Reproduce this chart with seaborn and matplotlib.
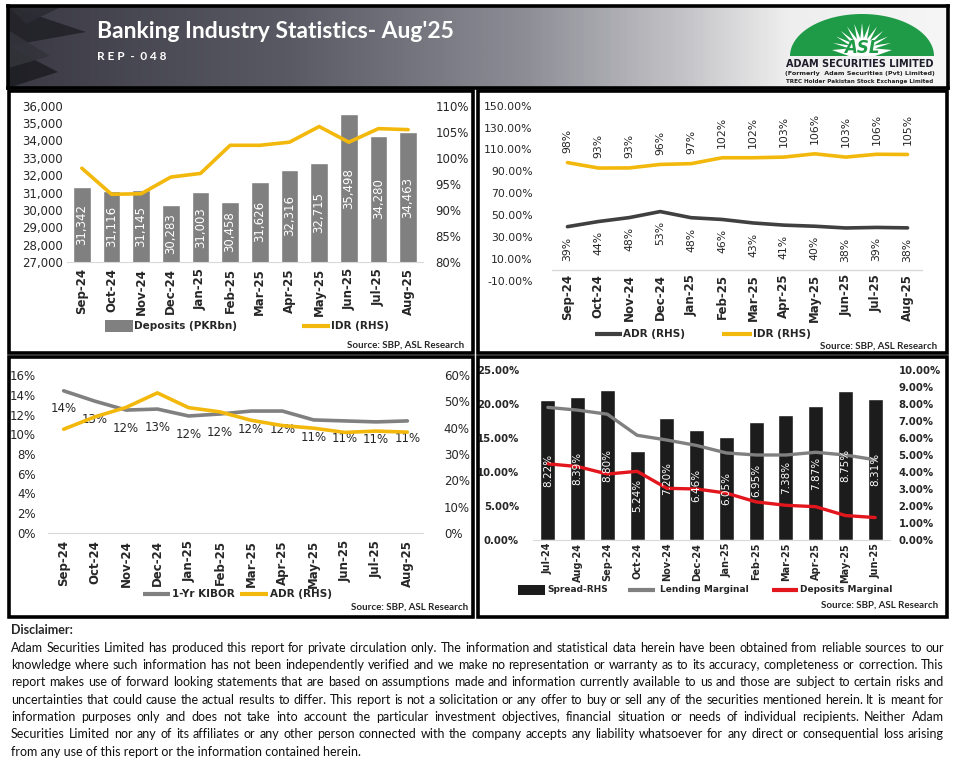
import numpy as np
import matplotlib
matplotlib.use("Agg")
import matplotlib.pyplot as plt
import seaborn as sns
from matplotlib.patches import Rectangle, Polygon
from matplotlib.lines import Line2D
from matplotlib.colors import LinearSegmentedColormap
from matplotlib.ticker import FuncFormatter, MultipleLocator

# ---- data ----
months = ["Sep-24", "Oct-24", "Nov-24", "Dec-24", "Jan-25", "Feb-25",
          "Mar-25", "Apr-25", "May-25", "Jun-25", "Jul-25", "Aug-25"]
deposits = [31342, 31116, 31145, 30283, 31003, 30458,
            31626, 32316, 32715, 35498, 34280, 34463]          # PKR bn
idr = [98.0, 93.0, 93.1, 96.3, 97.0, 102.4, 102.4, 103.0, 106.0, 103.0, 105.6, 105.4]
adr = [39.4, 44.1, 47.7, 53.2, 47.6, 46.0, 42.8, 40.8, 39.8, 38.2, 38.7, 38.3]
kibor = [14.4, 13.35, 12.45, 12.55, 11.85, 12.05, 12.35, 12.35, 11.45, 11.35, 11.25, 11.35]

spread_months = ["Jul-24", "Aug-24", "Sep-24", "Oct-24", "Nov-24", "Dec-24",
                 "Jan-25", "Feb-25", "Mar-25", "Apr-25", "May-25", "Jun-25"]
spread = [8.22, 8.39, 8.80, 5.24, 7.20, 6.46, 6.05, 6.95, 7.38, 7.87, 8.75, 8.31]
lending_marginal = [19.5, 19.1, 18.5, 15.4, 14.7, 13.9, 12.8, 12.5, 12.5, 12.9, 12.5, 11.8]
deposits_marginal = [11.2, 10.8, 9.7, 10.1, 7.6, 7.5, 6.9, 5.6, 5.1, 4.9, 3.6, 3.3]

disclaimer = [
    "Adam Securities Limited has produced this report for private circulation only. The information and statistical data herein have been obtained from reliable sources to our",
    "knowledge where such information has not been independently verified and we make no representation or warranty as to its accuracy, completeness or correction. This",
    "report makes use of forward looking statements that are based on assumptions made and information currently available to us and those are subject to certain risks and",
    "uncertainties that could cause the actual results to differ. This report is not a solicitation or any offer to buy or sell any of the securities mentioned herein. It is meant for",
    "information purposes only and does not take into account the particular investment objectives, financial situation or needs of individual recipients. Neither Adam",
    "Securities Limited nor any of its affiliates or any other person connected with the company accepts any liability whatsoever for any direct or consequential loss arising",
    "from any use of this report or the information contained herein.",
]

W, H = 955, 768
BAR_GREY = "#808080"
GOLD = "#f3b80c"
DARK = "#404040"
KIBOR_GREY = "#808080"
RED = "#e3161d"
AXIS_C = "#d9d9d9"
TXT_FONT = "Lato"

sns.set_style("white")
plt.rcParams["font.family"] = ["DejaVu Sans"]

fig = plt.figure(figsize=(W / 100, H / 100), dpi=100, facecolor="white")


def box(x0, y0, x1, y1):
    return fig.add_axes([x0 / W, 1 - y1 / H, (x1 - x0) / W, (y1 - y0) / H])


def ftext(x, y, s, **kw):
    return fig.text(x / W, 1 - y / H, s, **kw)


def leg_line(x0, x1, y, color, lw=3):
    fig.add_artist(Line2D([x0 / W, x1 / W], [1 - y / H] * 2, transform=fig.transFigure,
                          color=color, lw=lw, solid_capstyle="butt"))


def leg_patch(x0, x1, y, h, color):
    fig.add_artist(Rectangle((x0 / W, 1 - (y + h / 2) / H), (x1 - x0) / W, h / H,
                             transform=fig.transFigure, color=color, lw=0))


def frame(x0, y0, x1, y1):
    fig.add_artist(Rectangle((x0 / W, 1 - y1 / H), (x1 - x0) / W, (y1 - y0) / H,
                             transform=fig.transFigure, fill=False, ec="black", lw=2.6))


def style_axis(ax, labels, fs=8.5, pad=4):
    for s in ax.spines.values():
        s.set_visible(False)
    ax.spines["bottom"].set_visible(True)
    ax.spines["bottom"].set_color(AXIS_C)
    ax.set_xlim(-0.5, len(labels) - 0.5)
    ax.set_xticks(range(len(labels)))
    ax.set_xticklabels(labels, rotation=90, fontweight="bold", fontsize=fs)
    ax.set_xticks(np.arange(-0.5, len(labels), 1), minor=True)
    ax.tick_params(axis="x", which="major", length=0, pad=pad)
    ax.tick_params(axis="x", which="minor", length=4, color=AXIS_C, width=1)
    ax.tick_params(axis="y", length=0)
    ax.set_xlabel("")
    ax.set_ylabel("")
    ax.grid(False)
    ax.patch.set_alpha(0)


def clean_twin(ax):
    for s in ax.spines.values():
        s.set_visible(False)
    ax.tick_params(axis="y", length=0)
    ax.set_ylabel("")
    ax.grid(False)


# ---------------- header banner ----------------
hb = box(8, 6, 948, 88)
cmap = LinearSegmentedColormap.from_list(
    "banner", [(0, "#3b3a44"), (0.3, "#5a5a64"), (0.55, "#8d8d96"),
               (0.72, "#c4c4c8"), (0.83, "#eeeeee"), (1, "#f6f6f6")])
hb.imshow(np.linspace(0, 1, 600)[None, :], extent=[0, 940, 82, 0], aspect="auto", cmap=cmap)
hb.set_xlim(0, 940)
hb.set_ylim(82, 0)
hb.set_xticks([])
hb.set_yticks([])
for s in hb.spines.values():
    s.set_color("black")
    s.set_linewidth(2.6)
for pts, c in [([(0, 0), (78, 26), (0, 40)], "#222228"),
               ([(0, 0), (55, 0), (18, 18)], "#2c2c34"),
               ([(0, 40), (50, 66), (0, 82)], "#1e1e24"),
               ([(0, 24), (42, 50), (0, 62)], "#33333b")]:
    hb.add_patch(Polygon(pts, closed=True, color=c, lw=0, alpha=0.9))

ftext(97, 32, "Banking Industry Statistics- Aug'25", color="white", fontsize=16.5,
      fontweight="bold", family=TXT_FONT, va="center", ha="left")
ftext(97, 57, "R E P  -  0 4 8", color="white", fontsize=8.5, family=TXT_FONT,
      fontweight="bold", va="center", ha="left")

# logo
cx, cy = 862, 56
th = np.linspace(0, np.pi, 80)
dome = [(cx + 72 * np.cos(t), cy - 42 * np.sin(t)) for t in th]
fig.add_artist(Polygon([(x / W, 1 - y / H) for x, y in dome], closed=True,
                       transform=fig.transFigure, color="#1f9a47", lw=0))
star = []
for k in range(25):
    a = np.pi * k / 24
    r = 30 if k % 2 == 0 else 13
    star.append((cx + r * np.cos(a), cy - 6 - r * np.sin(a) * 0.9))
star = [(cx + 13, cy)] + star + [(cx - 13, cy)]
fig.add_artist(Polygon([(x / W, 1 - y / H) for x, y in star], closed=True,
                       transform=fig.transFigure, color="white", lw=0))
ftext(cx, 48, "ASL", color="#1f9a47", fontsize=12, fontweight="bold", style="italic",
      ha="center", va="center", family="DejaVu Sans")
ftext(860, 64, "ADAM SECURITIES LIMITED", color="#1d1d2b", fontsize=7, fontweight="bold",
      ha="center", va="center")
ftext(860, 74, "(Formerly  Adam Securities (Pvt) Limited)", color="#222222", fontsize=4.6,
      fontweight="bold", ha="center", va="center")
ftext(860, 82, "TREC Holder Pakistan Stock Exchange Limited", color="#222222", fontsize=4.1,
      fontweight="bold", ha="center", va="center")

# ---------------- panel frames ----------------
frame(9, 91, 473, 353)
frame(478, 91, 947, 353)
frame(9, 357, 473, 617)
frame(478, 357, 947, 617)

# ---------------- panel 1: deposits & IDR ----------------
ax1 = box(67, 105.7, 423, 262)
sns.barplot(x=months, y=deposits, order=months, color=BAR_GREY, width=0.6,
            saturation=1, ax=ax1)
ax1.set_ylim(27000, 36000)
ax1.yaxis.set_major_locator(MultipleLocator(1000))
ax1.yaxis.set_major_formatter(FuncFormatter(lambda v, _: f"{v:,.0f}"))
for i, v in enumerate(deposits):
    ax1.text(i, (27000 + v) / 2, f"{v:,}", rotation=90, ha="center", va="center",
             color="white", fontsize=8.5)
style_axis(ax1, months, pad=4.5)
ax1.tick_params(axis="y", labelsize=8.5, pad=3)
ax1r = ax1.twinx()
sns.lineplot(x=np.arange(len(months)), y=idr, ax=ax1r, color=GOLD, linewidth=2.6)
ax1r.set_ylim(80, 110)
ax1r.yaxis.set_major_locator(MultipleLocator(5))
ax1r.yaxis.set_major_formatter(FuncFormatter(lambda v, _: f"{v:.0f}%"))
clean_twin(ax1r)
ax1r.tick_params(axis="y", labelsize=8.5, pad=9)
ax1.set_xlim(-0.5, 11.5)

leg_patch(105, 133, 326, 12, BAR_GREY)
ftext(134, 326, "Deposits (PKRbn)", fontsize=7.5, fontweight="bold", va="center")
leg_line(302, 330, 326, GOLD)
ftext(331, 326, "IDR (RHS)", fontsize=7.5, fontweight="bold", va="center")
ftext(464, 345, "Source: SBP, ASL Research", fontsize=7, fontweight="bold",
      family=TXT_FONT, ha="right", va="center")

# ---------------- panel 2: ADR & IDR ----------------
ax2 = box(552, 105.7, 923, 280.7)
sns.lineplot(x=np.arange(len(months)), y=adr, ax=ax2, color=DARK, linewidth=2.6)
sns.lineplot(x=np.arange(len(months)), y=idr, ax=ax2, color=GOLD, linewidth=2.6)
ax2.set_ylim(-10, 150)
ax2.set_yticks(np.arange(-10, 151, 20))
ax2.yaxis.set_major_formatter(FuncFormatter(lambda v, _: f"{v:.2f}%"))
style_axis(ax2, months, pad=-5)
ax2.spines["bottom"].set_visible(False)
ax2.tick_params(axis="x", which="minor", length=0)
ax2.axhline(0, color=AXIS_C, lw=1)
ax2.tick_params(axis="y", labelsize=7.8, pad=14)
for i, v in enumerate(idr):
    ax2.annotate(f"{v:.0f}%", (i, v), xytext=(0, 7), textcoords="offset points",
                 rotation=90, ha="center", va="bottom", fontsize=7.8)
for i, v in enumerate(adr):
    ax2.annotate(f"{v:.0f}%", (i, v), xytext=(0, -7), textcoords="offset points",
                 rotation=90, ha="center", va="top", fontsize=7.8)

leg_line(595, 622, 334, DARK)
ftext(623, 334, "ADR (RHS)", fontsize=7.5, fontweight="bold", va="center")
leg_line(722, 752, 334, GOLD)
ftext(753, 334, "IDR (RHS)", fontsize=7.5, fontweight="bold", va="center")
ftext(937, 346, "Source: SBP, ASL Research", fontsize=7, fontweight="bold",
      family=TXT_FONT, ha="right", va="center")

# ---------------- panel 3: KIBOR & ADR ----------------
ax3 = box(48, 375, 423, 533)
sns.lineplot(x=np.arange(len(months)), y=kibor, ax=ax3, color=KIBOR_GREY, linewidth=2.6)
ax3.set_ylim(0, 16)
ax3.yaxis.set_major_locator(MultipleLocator(2))
ax3.yaxis.set_major_formatter(FuncFormatter(lambda v, _: f"{v:.0f}%"))
style_axis(ax3, months, pad=5)
ax3.tick_params(axis="y", labelsize=8.5, pad=9)
for i, v in enumerate(kibor):
    ax3.annotate(f"{v:.0f}%", (i, v), xytext=(0, -13), textcoords="offset points",
                 ha="center", va="center", fontsize=8.5)
ax3r = ax3.twinx()
sns.lineplot(x=np.arange(len(months)), y=adr, ax=ax3r, color=GOLD, linewidth=2.6)
ax3r.set_ylim(0, 60)
ax3r.yaxis.set_major_locator(MultipleLocator(10))
ax3r.yaxis.set_major_formatter(FuncFormatter(lambda v, _: f"{v:.0f}%"))
clean_twin(ax3r)
ax3r.tick_params(axis="y", labelsize=8.5, pad=15)
ax3.set_xlim(-0.5, 11.5)

leg_line(143, 170, 594, KIBOR_GREY)
ftext(172, 594, "1-Yr KIBOR", fontsize=7.5, fontweight="bold", va="center")
leg_line(240, 268, 594, GOLD)
ftext(270, 594, "ADR (RHS)", fontsize=7.5, fontweight="bold", va="center")
ftext(468, 607, "Source: SBP, ASL Research", fontsize=7, fontweight="bold",
      family=TXT_FONT, ha="right", va="center")

# ---------------- panel 4: spread & marginal rates ----------------
ax4 = box(533, 370, 890, 540)
sns.barplot(x=spread_months, y=spread, order=spread_months, color="#1c1c1c", width=0.5,
            saturation=1, ax=ax4)
ax4.set_ylim(0, 10)
ax4.yaxis.set_major_locator(MultipleLocator(1))
ax4.yaxis.set_major_formatter(FuncFormatter(lambda v, _: f"{v:.2f}%"))
style_axis(ax4, spread_months, fs=7, pad=2)
ax4l = ax4.twinx()
sns.lineplot(x=np.arange(len(spread_months)), y=lending_marginal, ax=ax4l,
             color=KIBOR_GREY, linewidth=2.4)
sns.lineplot(x=np.arange(len(spread_months)), y=deposits_marginal, ax=ax4l,
             color=RED, linewidth=2.4)
ax4l.set_ylim(0, 25)
ax4l.yaxis.set_major_locator(MultipleLocator(5))
ax4l.yaxis.set_major_formatter(FuncFormatter(lambda v, _: f"{v:.2f}%"))
clean_twin(ax4l)
# bars read on the right, marginal rates on the left
ax4.yaxis.tick_right()
ax4.tick_params(axis="y", labelsize=7.3, pad=6, length=0)
ax4l.yaxis.tick_left()
ax4l.tick_params(axis="y", labelsize=7.3, pad=10, length=0)
for lab in ax4.get_yticklabels() + ax4l.get_yticklabels():
    lab.set_fontweight("bold")
for i, v in enumerate(spread):
    ax4l.text(i, v * 2.5 / 2, f"{v:.2f}%", rotation=90, ha="center", va="center",
              color="white", fontsize=7.5)
ax4.set_xlim(-0.5, 11.5)

leg_patch(518, 545, 590, 10, "#1c1c1c")
ftext(547, 590, "Spread-RHS", fontsize=6.5, fontweight="bold", va="center")
leg_line(628, 655, 590, KIBOR_GREY)
ftext(660, 590, "Lending Marginal", fontsize=6.5, fontweight="bold", va="center")
leg_line(772, 798, 590, RED)
ftext(800, 590, "Deposits Marginal", fontsize=6.5, fontweight="bold", va="center")
ftext(938, 605, "Source: SBP, ASL Research", fontsize=7, fontweight="bold",
      family=TXT_FONT, ha="right", va="center")

# ---------------- disclaimer (justified) ----------------
ftext(11, 630, "Disclaimer:", fontsize=9, fontweight="bold", family=TXT_FONT, va="center")
renderer = fig.canvas.get_renderer()
x_left, x_right = 11, 944


def measure(s, size):
    t = fig.text(0, 0, s, fontsize=size, family=TXT_FONT)
    w = t.get_window_extent(renderer=renderer).width
    t.remove()
    return w


size = 10.5
while max(measure(l, size) for l in disclaimer) > (x_right - x_left) * 0.995:
    size -= 0.1

y = 647.5
for n, line in enumerate(disclaimer):
    if n == len(disclaimer) - 1:
        ftext(x_left, y, line, fontsize=size, family=TXT_FONT, va="center", color="#111111")
    else:
        words = line.split(" ")
        widths = [measure(w, size) for w in words]
        gap = (x_right - x_left - sum(widths)) / (len(words) - 1)
        x = x_left
        for w, ww in zip(words, widths):
            ftext(x, y, w, fontsize=size, family=TXT_FONT, va="center", color="#111111")
            x += ww + gap
    y += 17.4

fig.savefig("out.png", dpi=100, facecolor="white")
